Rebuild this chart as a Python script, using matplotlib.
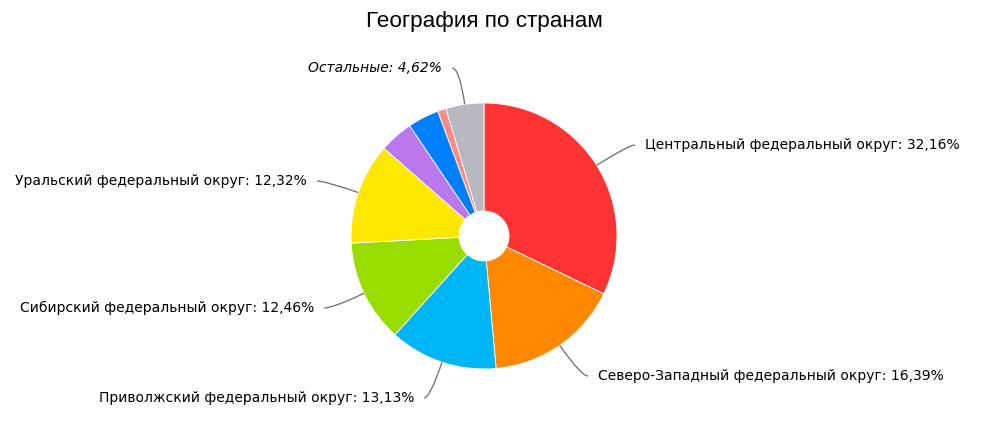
import numpy as np
import matplotlib
matplotlib.use("Agg")
import matplotlib.pyplot as plt
from matplotlib.path import Path
from matplotlib.patches import PathPatch

labels = ["Центральный федеральный округ", "Северо-Западный федеральный округ",
          "Приволжский федеральный округ", "Сибирский федеральный округ",
          "Уральский федеральный округ", "", "", "", "Остальные"]
values = [32.16, 16.39, 13.13, 12.46, 12.32, 4.10, 3.80, 1.02, 4.62]
colors = ["#FF3333", "#FF8800", "#00B5F5", "#99DD00", "#FFE800",
          "#BB77EE", "#0080FF", "#FF8888", "#B8B8C0"]

W, H = 1000, 424
fig = plt.figure(figsize=(W / 100, H / 100), dpi=100)
ax = fig.add_axes([0, 0, 1, 1])

cx, cy = 484, H - 236
R, r_in = 133, 25
wedges, _ = ax.pie(values, colors=colors, startangle=90, counterclock=False,
                   center=(cx, cy), radius=R, frame=True,
                   wedgeprops=dict(width=R - r_in, edgecolor="white", linewidth=0.6))
ax.set_xlim(0, W)
ax.set_ylim(0, H)
ax.set_aspect("equal")
ax.axis("off")

# label layout (image pixel coords): x, y(from top), ha
layout = {
    0: (645, 145, "left"),
    1: (598, 376, "left"),
    2: (414, 398, "right"),
    3: (314, 308, "right"),
    4: (307, 181, "right"),
    8: (442, 68, "right"),
}

for i, w in enumerate(wedges):
    if i not in layout:
        continue
    tx, ty_img, ha = layout[i]
    ty = H - ty_img
    ang = np.deg2rad((w.theta1 + w.theta2) / 2)
    d = np.array([np.cos(ang), np.sin(ang)])
    p0 = np.array([cx, cy]) + R * d
    end = np.array([tx - 10 if ha == "left" else tx + 10, ty])
    t = (end[1] - p0[1]) / d[1] if abs(d[1]) > 1e-6 else 0
    ctrl = p0 + t * d
    path = Path([p0, ctrl, end], [Path.MOVETO, Path.CURVE3, Path.CURVE3])
    ax.add_patch(PathPatch(path, fill=False, edgecolor="#777777", lw=1.0))
    txt = f"{labels[i]}: {values[i]:.2f}%".replace(".", ",")
    ax.text(tx, ty, txt, ha=ha, va="center", fontsize=10,
            family="DejaVu Sans", color="#000000",
            style="italic" if i == 8 else "normal")

ax.text(cx, H - 22, "География по странам", ha="center", va="center",
        fontsize=16.2, family="Liberation Sans", color="#000000")

fig.savefig("out.png", dpi=100)
